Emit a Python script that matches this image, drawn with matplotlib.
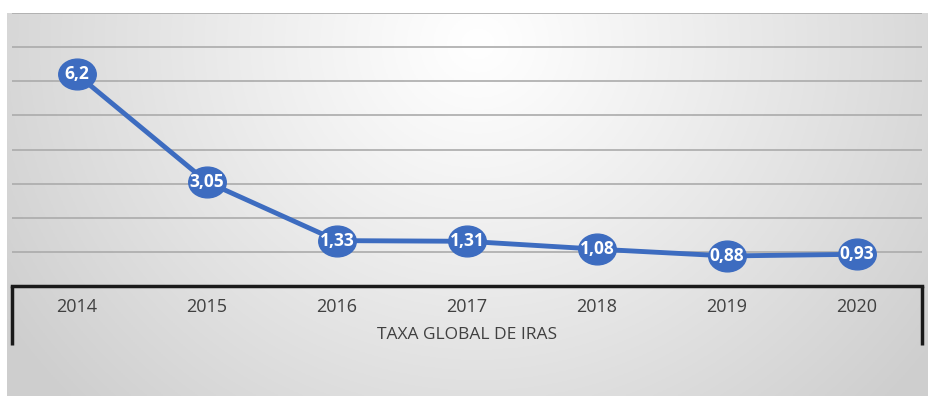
import numpy as np
import matplotlib
matplotlib.use("Agg")
import matplotlib.pyplot as plt
from matplotlib.path import Path
from matplotlib.transforms import Affine2D

years = ["2014", "2015", "2016", "2017", "2018", "2019", "2020"]
taxa = [6.2, 3.05, 1.33, 1.31, 1.08, 0.88, 0.93]
labels = ["6,2", "3,05", "1,33", "1,31", "1,08", "0,88", "0,93"]
axis_title = "TAXA GLOBAL DE IRAS"

W, H = 929, 396
fig = plt.figure(figsize=(W / 100, H / 100), dpi=100)
fig.patch.set_facecolor("white")

# background panel with gradient
bg = fig.add_axes([7 / W, 0, (W - 7) / W, (H - 13) / H])
bg.set_axis_off()
ny, nx = 200, 460
yy, xx = np.mgrid[0:ny, 0:nx]
px = xx / nx * (W - 7)
py = yy / ny * (H - 13)
d = np.sqrt(((px - 470) / 560) ** 2 + ((py - 30) / 520) ** 2)
d = np.clip(d, 0, 1)
val = 1.0 - 0.19 * d ** 1.1
img = np.dstack([val, val, val])
bg.imshow(img, aspect="auto", extent=[0, 1, 1, 0])
bg.set_xlim(0, 1)
bg.set_ylim(1, 0)

left_px, right_px = 12, 922
y0_px, y8_px = 286, 13
ax = fig.add_axes([left_px / W, (H - y0_px) / H, (right_px - left_px) / W, (y0_px - y8_px) / H])
ax.set_facecolor("none")
x = np.arange(len(years))
ax.set_xlim(-0.5, len(years) - 0.5)
ax.set_ylim(0, 8)
for sp in ax.spines.values():
    sp.set_visible(False)
ax.set_yticks(range(1, 9))
ax.yaxis.grid(True, color="#ababab", linewidth=1.2)
ax.tick_params(axis="y", left=False, labelleft=False)
ax.tick_params(axis="x", bottom=False, labelbottom=False)
ax.set_axisbelow(True)

# axis box
ax.axhline(0, color="#1a1a1a", linewidth=2.5, clip_on=False, zorder=3)
ax.plot([-0.5, -0.5], [0, -1.73], color="#1a1a1a", linewidth=2.5, clip_on=False, solid_capstyle="butt")
ax.plot([len(years) - 0.5, len(years) - 0.5], [0, -1.73], color="#1a1a1a", linewidth=2.5, clip_on=False, solid_capstyle="butt")

for xi, yr in zip(x, years):
    ax.text(xi, -0.62, yr, ha="center", va="center", fontsize=13, color="#404040",
            family=["Open Sans", "DejaVu Sans"], clip_on=False)
ax.text((len(years) - 1) / 2, -1.43, axis_title, ha="center", va="center", fontsize=12.5,
        color="#404040", family=["Open Sans", "DejaVu Sans"], clip_on=False)

ell = Path.unit_circle().transformed(Affine2D().scale(1.22, 1.0))
color = "#3d6cc0"
ax.plot(x, taxa, color=color, linewidth=3.5, zorder=4, clip_on=False)
ax.plot(x, taxa, linestyle="none", marker=ell, markersize=27, markerfacecolor=color,
        markeredgecolor=color, zorder=5, clip_on=False)
for xi, v, lab in zip(x, taxa, labels):
    ax.text(xi, v, lab, ha="center", va="center", fontsize=12.5, color="white",
            fontweight="bold", family=["Open Sans", "DejaVu Sans"], zorder=6)

fig.savefig("out.png", dpi=100)
